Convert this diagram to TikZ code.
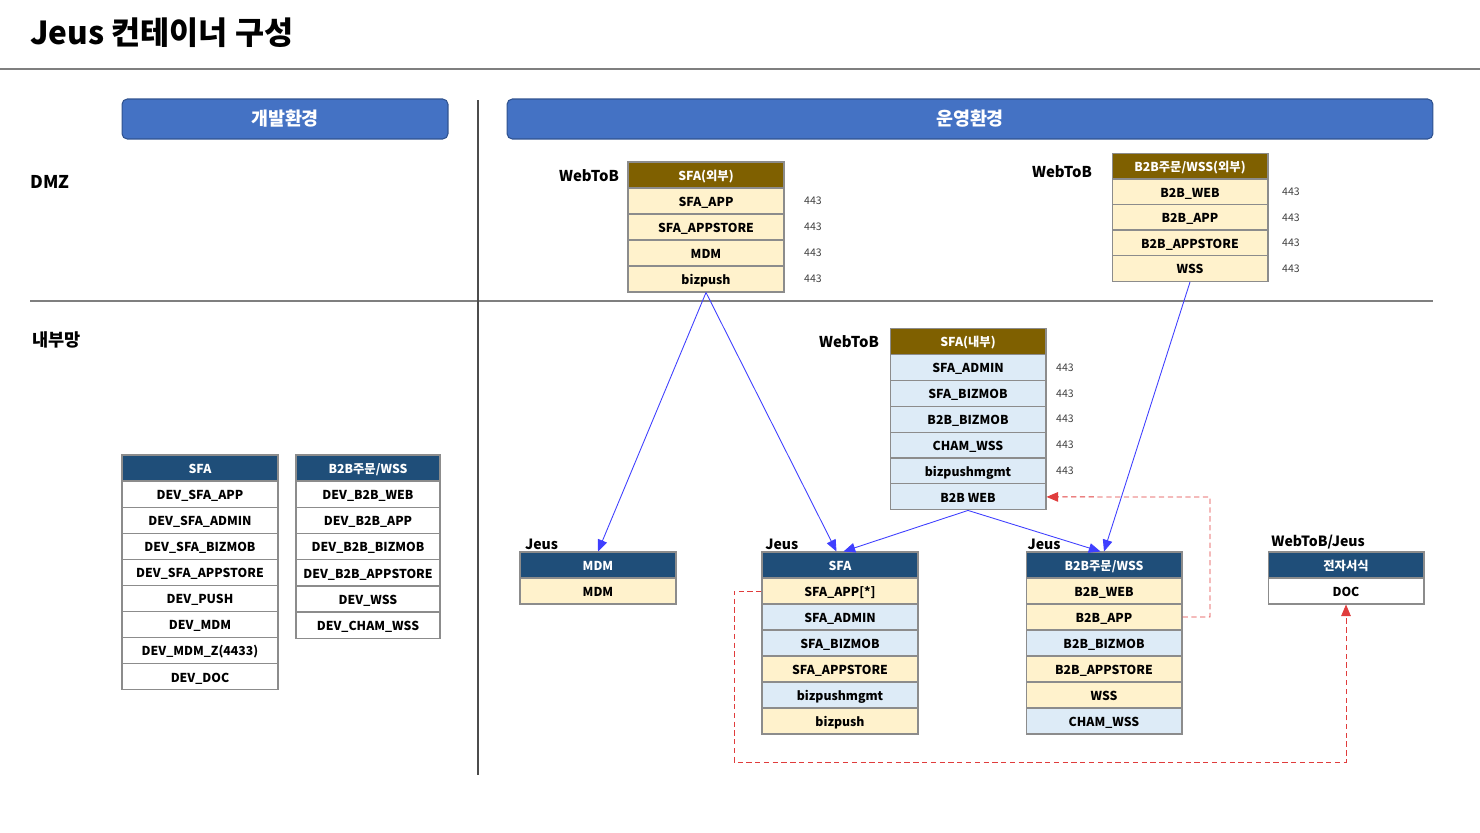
\documentclass[tikz,border=0pt]{standalone}
\usepackage{fontspec}
\setmainfont{Noto Sans CJK KR}
\usepackage{tikz}
\usetikzlibrary{arrows,positioning}

\definecolor{bandblue}{HTML}{4472C4}
\definecolor{bandline}{HTML}{2F528F}
\definecolor{headbrown}{HTML}{7F6000}
\definecolor{headblue}{HTML}{1F4E79}
\definecolor{cellyellow}{HTML}{FFF2CC}
\definecolor{cellblue}{HTML}{DDEBF7}
\definecolor{cellline}{HTML}{8C8C8C}
\definecolor{portgray}{HTML}{404040}
\definecolor{linkblue}{HTML}{3F3FFF}
\definecolor{linkred}{HTML}{E03C3C}
\definecolor{rulegray}{HTML}{7F7F7F}

\begin{document}
\begin{tikzpicture}[x=0.02cm,y=-0.02cm]
\tikzset{
	band/.style = {rounded corners=3pt, draw=bandline, line width=0.6pt, fill=bandblue, text=white, minimum height=0.8cm, font=\fontsize{10.5}{12}\selectfont\bfseries},
	cell/.style = {draw=cellline, line width=0.6pt, minimum width=3.12cm, minimum height=0.52cm, inner sep=0pt, text height=1.55ex, text depth=0.45ex, font=\fontsize{7}{9}\selectfont\bfseries},
	brownhead/.style = {cell, fill=headbrown, text=white},
	bluehead/.style = {cell, fill=headblue, text=white},
	ycell/.style = {cell, fill=cellyellow},
	bcell/.style = {cell, fill=cellblue},
	wcell/.style = {cell, fill=white},
	port/.style = {font=\fontsize{6}{7}\selectfont, text=portgray, inner sep=0pt},
	zone/.style = {anchor=west, font=\fontsize{10}{12}\selectfont\bfseries},
	tag/.style = {font=\fontsize{8.5}{10}\selectfont\bfseries, inner sep=1pt},
	conn/.style = {draw=linkblue, line width=0.5pt, -triangle 45},
	backlink/.style = {draw=linkred, densely dashed, line width=0.5pt, -triangle 45}
}
\useasboundingbox (0,0) rectangle (1480,832);

% title and frame lines
\node (title) [anchor=west, font=\fontsize{18}{21}\selectfont\bfseries] at (24,33) {Jeus 컨테이너 구성};
\draw [rulegray, line width=0.7pt] (0,69) -- (1480,69);
\draw [rulegray, line width=0.7pt] (30,301) -- (1433,301);
\draw [black!70, line width=0.7pt] (478,100) -- (478,775);

\node (devband) [band, minimum width=6.52cm] at (285,119) {개발환경};
\node (prodband) [band, minimum width=18.52cm] at (970,119) {운영환경};

\node (dmz) [zone] at (24,182) {DMZ};
\node (inner) [zone] at (26,340) {내부망};

% WebToB, DMZ
\node (sfaext) [brownhead] at (706,175) {SFA(외부)};
\foreach \t [count=\i] in {SFA\_APP, SFA\_APPSTORE, MDM, bizpush}{
	\node (sfaext-\i) [ycell] at (706,{175+26*\i}) {\t};
	\node (sfaextport-\i) [port] at (813,{175+26*\i}) {443};
}
\node (sfaextweb) [tag, anchor=east] at (621,176) {WebToB};

\node (b2bext) [brownhead] at (1190,166.5) {B2B주문/WSS(외부)};
\foreach \t [count=\i] in {B2B\_WEB, B2B\_APP, B2B\_APPSTORE, WSS}{
	\node (b2bext-\i) [ycell] at (1190,{166.5+25.5*\i}) {\t};
	\node (b2bextport-\i) [port] at (1291,{166.5+25.5*\i}) {443};
}
\node (b2bextweb) [tag, anchor=east] at (1094,172) {WebToB};

% WebToB, internal
\node (sfaint) [brownhead] at (968,341.5) {SFA(내부)};
\foreach \t [count=\i] in {SFA\_ADMIN, SFA\_BIZMOB, B2B\_BIZMOB, CHAM\_WSS, bizpushmgmt, B2B WEB}{
	\node (sfaint-\i) [bcell] at (968,{341.5+25.9*\i}) {\t};
}
\foreach \i in {1,...,5}{
	\node (sfaintport-\i) [port] at (1065,{341.5+25.9*\i}) {443};
}
\node (sfaintweb) [tag, anchor=east] at (881,342) {WebToB};

% development
\node (devsfa) [bluehead] at (200,468) {SFA};
\foreach \t [count=\i] in {DEV\_SFA\_APP, DEV\_SFA\_ADMIN, DEV\_SFA\_BIZMOB, DEV\_SFA\_APPSTORE, DEV\_PUSH, DEV\_MDM, DEV\_MDM\_Z(4433), DEV\_DOC}{
	\node (devsfa-\i) [wcell] at (200,{468+26.1*\i}) {\t};
}
\node (devb2b) [bluehead, minimum width=2.88cm] at (368,468) {B2B주문/WSS};
\foreach \t [count=\i] in {DEV\_B2B\_WEB, DEV\_B2B\_APP, DEV\_B2B\_BIZMOB, DEV\_B2B\_APPSTORE, DEV\_WSS, DEV\_CHAM\_WSS}{
	\node (devb2b-\i) [wcell, minimum width=2.88cm] at (368,{468+26.2*\i}) {\t};
}

% Jeus
\node (mdm) [bluehead] at (598,565) {MDM};
\node (mdm-1) [ycell] at (598,591) {MDM};
\node (mdmtag) [tag, font=\fontsize{8}{10}\selectfont\bfseries, anchor=south west] at ([xshift=2pt]mdm.north west) {Jeus};

\node (jsfa) [bluehead] at (840,565) {SFA};
\foreach \t/\s [count=\i] in {SFA\_APP[*]/ycell, SFA\_ADMIN/bcell, SFA\_BIZMOB/bcell, SFA\_APPSTORE/ycell, bizpushmgmt/bcell, bizpush/ycell}{
	\node (jsfa-\i) [style=\s] at (840,{565+26*\i}) {\t};
}
\node (jsfatag) [tag, font=\fontsize{8}{10}\selectfont\bfseries, anchor=south west] at ([xshift=1pt]jsfa.north west) {Jeus};

\node (jb2b) [bluehead] at (1104,565) {B2B주문/WSS};
\foreach \t/\s [count=\i] in {B2B\_WEB/ycell, B2B\_APP/ycell, B2B\_BIZMOB/bcell, B2B\_APPSTORE/ycell, WSS/ycell, CHAM\_WSS/bcell}{
	\node (jb2b-\i) [style=\s] at (1104,{565+26*\i}) {\t};
}
\node (jb2btag) [tag, font=\fontsize{8}{10}\selectfont\bfseries, anchor=south west] at (jb2b.north west) {Jeus};

\node (doc) [bluehead] at (1346,565) {전자서식};
\node (doc-1) [wcell] at (1346,591) {DOC};
\node (doctag) [tag, font=\fontsize{8}{10}\selectfont\bfseries, anchor=south west] at ([xshift=1pt]doc.north west) {WebToB/Jeus};

% connections
\draw [conn] (sfaext-4.south) -- (mdm.north);
\draw [conn] (sfaext-4.south) -- ([xshift=-2pt]jsfa.north);
\draw [conn] (sfaint-6.south) -- ([xshift=2pt]jsfa.north);
\draw [conn] (sfaint-6.south) -- ([xshift=-2pt]jb2b.north);
\draw [conn] (b2bext-4.south) -- (jb2b.north);

\coordinate (upturn) at (1210,497);
\coordinate (downturn) at (734,762);
\draw [backlink] (jb2b-2.east) -| (upturn) -- (sfaint-6.east);
\draw [backlink] (jsfa-1.west) -| (downturn) -| (doc-1.south);
\end{tikzpicture}
\end{document}
